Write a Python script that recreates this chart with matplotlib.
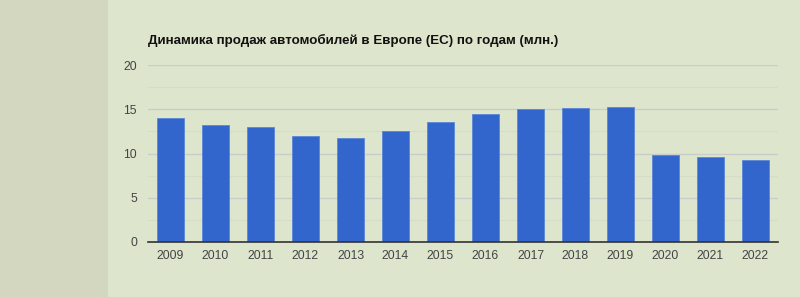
import matplotlib
matplotlib.use("Agg")
import matplotlib.pyplot as plt
from matplotlib.patches import Rectangle

# продажи автомобилей в ЕС, млн
years = ["2009", "2010", "2011", "2012", "2013", "2014", "2015",
         "2016", "2017", "2018", "2019", "2020", "2021", "2022"]
sales = [14.0, 13.2, 13.0, 12.0, 11.8, 12.5, 13.6,
         14.5, 15.0, 15.1, 15.2, 9.8, 9.6, 9.3]
y_ticks = [0, 5, 10, 15, 20]
title = "Динамика продаж автомобилей в Европе (ЕС) по годам (млн.)"

bg = "#dee5cd"
strip = "#d4d7c0"

plt.rcParams["font.family"] = ["Liberation Sans", "DejaVu Sans"]

fig = plt.figure(figsize=(8, 2.97), dpi=100)
fig.patch.set_facecolor(bg)
fig.patches.append(Rectangle((0, 0), 108 / 800, 1, transform=fig.transFigure,
                             facecolor=strip, edgecolor="none", zorder=0))

ax = fig.add_axes([148 / 800, 1 - 242 / 297, 630 / 800, 177 / 297])
ax.set_facecolor(bg)

x = range(len(years))
ax.bar(x, sales, width=0.6, color="#3366cc", edgecolor="#5a86d6",
       linewidth=0.6, zorder=3)

ax.set_xlim(-0.5, len(years) - 0.5)
ax.set_ylim(0, 20)
ax.set_xticks(list(x))
ax.set_xticklabels(years)
ax.set_yticks(y_ticks)
ax.set_yticks([2.5, 7.5, 12.5, 17.5], minor=True)

ax.grid(axis="y", which="major", color="#c9ccc8", linewidth=1, zorder=0)
ax.grid(axis="y", which="minor", color="#d6dcc8", linewidth=0.8, zorder=0)

for side in ["top", "right", "left"]:
    ax.spines[side].set_visible(False)
ax.spines["bottom"].set_color("#333333")
ax.spines["bottom"].set_linewidth(1.2)
ax.spines["bottom"].set_zorder(4)

ax.tick_params(axis="both", which="both", length=0, labelsize=8.7,
               labelcolor="#444444")
ax.tick_params(axis="x", pad=6)
ax.tick_params(axis="y", pad=8)

fig.text(148 / 800, 1 - 40 / 297, title, fontsize=9.65, fontweight="bold",
         color="#111111", va="center", ha="left")

fig.savefig("out.png", dpi=100, facecolor=bg)
